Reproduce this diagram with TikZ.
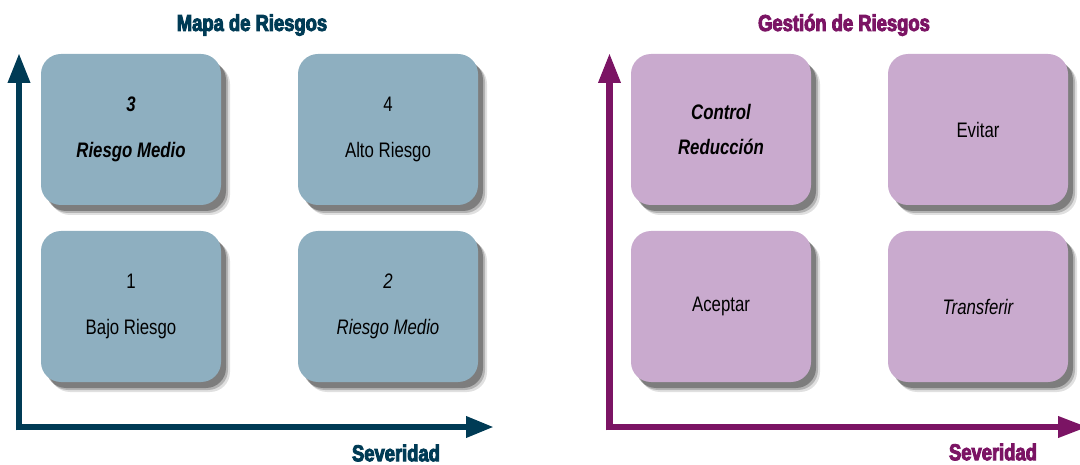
\documentclass[tikz,border=0pt]{standalone}
\usepackage{fontspec}
\setmainfont{Liberation Sans}
\newfontfamily\boxfont[FakeStretch=0.8]{Liberation Sans}
\newfontfamily\headfont[FakeStretch=0.8,FakeBold=4]{Liberation Sans}
\usetikzlibrary{arrows.meta,shadows}
\definecolor{mapaBlue}{HTML}{003B55}
\definecolor{mapaFill}{HTML}{8EAFC0}
\definecolor{gestPurple}{HTML}{7B1464}
\definecolor{gestFill}{HTML}{C9AACE}
\tikzset{
  cell/.style={rounded corners=20pt, minimum width=180pt, minimum height=151pt,
    inner sep=0pt, align=center, text=black,
    font=\boxfont\fontsize{21}{46}\selectfont,
    drop shadow={shadow xshift=9pt, shadow yshift=-10pt, fill=black, opacity=.12},
    drop shadow={shadow xshift=7pt, shadow yshift=-8pt, fill=black, opacity=.2},
    drop shadow={shadow xshift=5pt, shadow yshift=-6pt, fill=black, opacity=.3}},
  mapacell/.style={cell, fill=mapaFill},
  gestcell/.style={cell, fill=gestFill},
  headtxt/.style={font=\headfont\bfseries\fontsize{23}{25}\selectfont, inner sep=0pt},
  axisline/.style={line width=6.5pt},
}
\begin{document}
\begin{tikzpicture}[x=1pt,y=-1pt]
\useasboundingbox (0,0) rectangle (1080,465);

% ---------- Mapa de Riesgos ----------
\node[headtxt, text=mapaBlue] (tmapa) at (252,25) {Mapa de Riesgos};

\coordinate (mOl) at (16,427);
\coordinate (mY) at (19,53);
\coordinate (mX) at (494,427);
\draw[axisline, mapaBlue, -{Triangle[length=30pt,width=21pt]}] (19,430.25) -- (mY);
\draw[axisline, mapaBlue, -{Triangle[length=28pt,width=20pt]}] (mOl) -- (mX);

\node[mapacell] (m3) at (131,129.5) {\bfseries\itshape 3\\\bfseries\itshape Riesgo Medio};
\node[mapacell] (m4) at (388,129.5) {4\\Alto Riesgo};
\node[mapacell] (m1) at (131,306.5) {1\\Bajo Riesgo};
\node[mapacell] (m2) at (388,306.5) {\itshape 2\\\itshape Riesgo Medio};

\node[headtxt, text=mapaBlue] (smapa) at (396,453) {Severidad};

% ---------- Gestión de Riesgos ----------
\node[headtxt, text=gestPurple] (tgest) at (844,25) {Gestión de Riesgos};

\coordinate (gOl) at (606.5,427);
\coordinate (gY) at (609.5,53);
\coordinate (gX) at (1088,427);
\draw[axisline, gestPurple, -{Triangle[length=30pt,width=21pt]}] (609.5,430.25) -- (gY);
\draw[axisline, gestPurple, -{Triangle[length=30pt,width=20pt]}] (gOl) -- (gX);

\node[gestcell, font=\boxfont\fontsize{21}{35}\selectfont] (gc) at (721,129.5) {\bfseries\itshape Control\\\bfseries\itshape Reducción};
\node[gestcell] (ge) at (978,129.5) {Evitar};
\node[gestcell] (ga) at (721,306.5) {Aceptar};
\node[gestcell] (gt) at (978,306.5) {\itshape Transferir};

\node[headtxt, text=gestPurple] (sgest) at (993,452) {Severidad};
\end{tikzpicture}
\end{document}
